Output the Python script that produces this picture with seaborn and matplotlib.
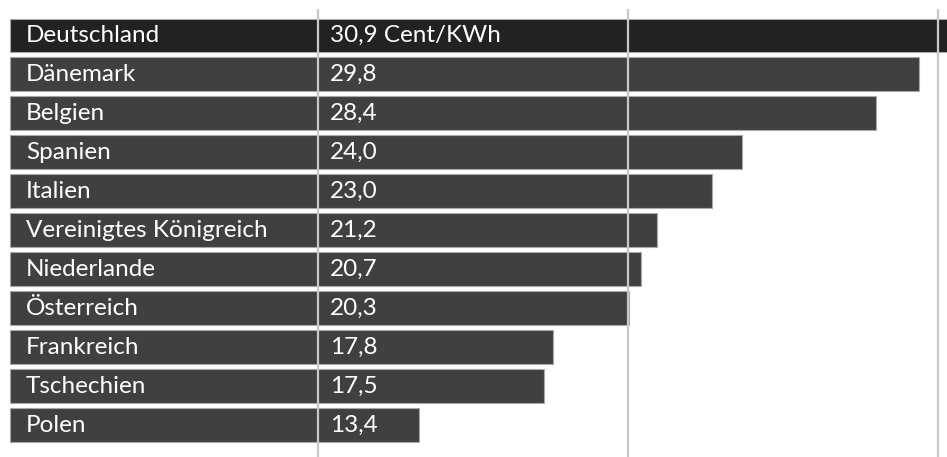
import matplotlib
matplotlib.use("Agg")
import matplotlib.pyplot as plt
import matplotlib.transforms as mtransforms
import seaborn as sns
import pandas as pd

countries = ["Deutschland", "Dänemark", "Belgien", "Spanien", "Italien",
             "Vereinigtes Königreich", "Niederlande", "Österreich",
             "Frankreich", "Tschechien", "Polen"]
prices = [30.9, 29.8, 28.4, 24.0, 23.0, 21.2, 20.7, 20.3, 17.8, 17.5, 13.4]
value_labels = ["30,9 Cent/KWh", "29,8", "28,4", "24,0", "23,0", "21,2",
                "20,7", "20,3", "17,8", "17,5", "13,4"]
grid_values = [10, 20, 30]

sns.set_theme(style="white")
plt.rcParams["font.family"] = ["Lato", "DejaVu Sans"]

df = pd.DataFrame({"country": countries, "price": prices})
df["group"] = ["highlight"] + ["other"] * (len(countries) - 1)

fig = plt.figure(figsize=(9.47, 4.57), dpi=100)
ax = fig.add_axes([0, 0, 1, 1])

sns.barplot(data=df, y="country", x="price", hue="group", orient="h",
            palette={"highlight": "#222222", "other": "#404040"},
            width=0.87, edgecolor="#a8a8a8", linewidth=0.8,
            legend=False, ax=ax, dodge=False, zorder=2)

ax.set_xlim(-0.33, 30.72)
ax.set_ylim(10.82, -0.91)

# gridline layer on its own scale
gax = ax.twiny()
gax.set_xlim(-0.258, 30.29)
gax.set_ylim(10.82, -0.91)
for gv in grid_values:
    gax.plot([gv, gv], [-0.68, 10.82], color="#c8c8c8", lw=1.6, zorder=3,
             solid_capstyle="butt")
gax.set_xticks([])
gax.set_yticks([])
for s in gax.spines.values():
    s.set_visible(False)

off_name = mtransforms.offset_copy(gax.transData, fig=fig, x=18, y=0, units="dots")
off_val = mtransforms.offset_copy(gax.transData, fig=fig, x=12, y=0, units="dots")
for i, (c, v) in enumerate(zip(countries, value_labels)):
    gax.text(0, i, c, transform=off_name, color="white", fontsize=17.5,
             va="center", ha="left", zorder=4)
    gax.text(grid_values[0], i, v, transform=off_val,
             color="white", fontsize=17.5, va="center", ha="left", zorder=4)

ax.set_xlabel("")
ax.set_ylabel("")
ax.set_xticks([])
ax.set_yticks([])
for s in ax.spines.values():
    s.set_visible(False)

fig.savefig("out.png", dpi=100)
